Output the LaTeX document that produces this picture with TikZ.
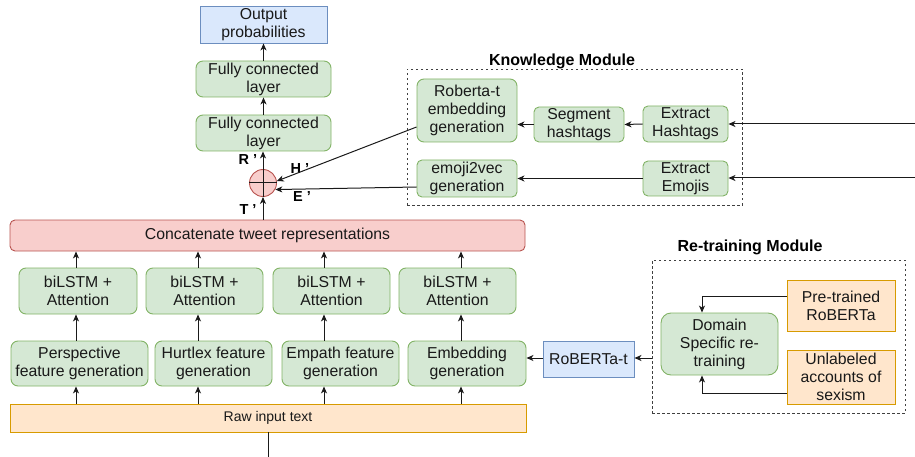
\documentclass[tikz,border=0pt]{standalone}
\usepackage{fontspec}
\setmainfont{Liberation Sans}
\usetikzlibrary{arrows.meta}
\definecolor{gfill}{HTML}{D5E8D4}\definecolor{gline}{HTML}{82B366}
\definecolor{bfill}{HTML}{DAE8FC}\definecolor{bline}{HTML}{6C8EBF}
\definecolor{rfill}{HTML}{F8CECC}\definecolor{rline}{HTML}{B85450}
\definecolor{ofill}{HTML}{FFE6CC}\definecolor{oline}{HTML}{D79B00}
\definecolor{conn}{HTML}{1A1A1A}
\tikzset{
  base/.style={draw, line width=0.9pt, inner sep=0pt, align=center, font=\fontsize{15.8}{18}\selectfont, text=black!90},
  gbox/.style={base, fill=gfill, draw=gline, rounded corners=7pt},
  bbox/.style={base, fill=bfill, draw=bline},
  rbox/.style={base, fill=rfill, draw=rline, rounded corners=5pt},
  obox/.style={base, fill=ofill, draw=oline},
  modbox/.style={draw=black!75, dashed, dash pattern=on 2.5pt off 2.5pt, line width=0.8pt},
  modtitle/.style={font=\fontsize{16}{18}\selectfont\bfseries},
  lab/.style={font=\fontsize{14.5}{16}\selectfont\bfseries},
  arr/.style={draw=conn, line width=1pt, -{Stealth[length=7pt,width=6pt,inset=2pt]}},
  ln/.style={draw=conn, line width=1pt}
}
\begin{document}
\begin{tikzpicture}[x=1pt,y=-1pt]
\useasboundingbox (0,0) rectangle (915,457);
% top stack
\node[bbox, minimum width=127pt, minimum height=37pt] (out) at (263.5,24.5) {Output\\probabilities};
\node[gbox, minimum width=135pt, minimum height=36pt] (fc1) at (263.5,79) {Fully connected\\layer};
\node[gbox, minimum width=135pt, minimum height=36pt] (fc2) at (263.5,133) {Fully connected\\layer};
\node[circle, draw=rline, fill=rfill, line width=0.9pt, minimum size=27pt, inner sep=0pt] (circ) at (263,183) {};
\draw[conn, line width=1pt] (circ.north) -- (circ.south) (circ.west) -- (circ.east);
\node[rbox, minimum width=515pt, minimum height=31pt] (concat) at (267.5,235.5) {Concatenate tweet representations};
% biLSTM
\node[gbox, minimum width=118pt, minimum height=46pt] (b1) at (78,291) {biLSTM +\\Attention};
\node[gbox, minimum width=117pt, minimum height=46pt] (b2) at (204.5,291) {biLSTM +\\Attention};
\node[gbox, minimum width=117pt, minimum height=46pt] (b3) at (331.5,291) {biLSTM +\\Attention};
\node[gbox, minimum width=117pt, minimum height=46pt] (b4) at (457.5,291) {biLSTM +\\Attention};
% features
\node[gbox, minimum width=137pt, minimum height=45pt] (f1) at (79.5,363.5) {Perspective\\feature generation};
\node[gbox, minimum width=117pt, minimum height=45pt] (f2) at (213.5,363.5) {Hurtlex feature\\generation};
\node[gbox, minimum width=117pt, minimum height=45pt] (f3) at (340.5,363.5) {Empath feature\\generation};
\node[gbox, minimum width=118pt, minimum height=45pt] (f4) at (467,363.5) {Embedding\\generation};
\node[obox, minimum width=516pt, minimum height=28pt, font=\fontsize{14}{16}\selectfont] (raw) at (268,418) {Raw input text};
\coordinate (rawin) at (268,457);
% column x positions
\coordinate (c1) at (76,0); \coordinate (c2) at (198,0); \coordinate (c3) at (324,0); \coordinate (c4) at (461,0);
\foreach \i/\c in {1/c1,2/c2,3/c3,4/c4}{
  \draw[arr] (raw.north -| \c) -- (f\i.south -| \c);
  \draw[arr] (f\i.north -| \c) -- (b\i.south -| \c);
  \draw[arr] (b\i.north -| \c) -- (concat.south -| \c);
}
\draw[ln] (rawin) -- (raw.south -| rawin);
\draw[arr] (concat.north -| circ) -- (circ.south);
\draw[arr] (circ.north) -- (fc2.south -| circ);
\draw[arr] (fc2.north) -- (fc1.south);
\draw[arr] (fc1.north) -- (out.south);
\node[lab] (lR) at (248,160) {R '};
\node[lab] (lH) at (300,169) {H '};
\node[lab] (lE) at (302,197) {E '};
\node[lab] (lT) at (248,210) {T '};
% knowledge module
\node[modbox, minimum width=335pt, minimum height=136pt, inner sep=0pt] (know) at (574.5,137) {};
\node[modtitle] (knowt) at (562,61) {Knowledge Module};
\node[gbox, minimum width=100pt, minimum height=63pt] (remb) at (467,110.5) {Roberta-t\\embedding\\generation};
\node[gbox, minimum width=90pt, minimum height=35pt, rounded corners=5pt] (seg) at (579,124.5) {Segment\\hashtags};
\node[gbox, minimum width=85pt, minimum height=36pt, rounded corners=5pt] (exh) at (685.5,124) {Extract\\Hashtags};
\node[gbox, minimum width=100pt, minimum height=37pt, rounded corners=5pt] (e2v) at (467,178.5) {emoji2vec\\generation};
\node[gbox, minimum width=85pt, minimum height=35pt, rounded corners=5pt] (exe) at (685.5,178.5) {Extract\\Emojis};
\coordinate (inh) at (915,124);
\coordinate (ine) at (915,178);
\draw[arr] (inh) -- (exh.east |- inh);
\draw[arr] (ine) -- (exe.east |- ine);
\draw[arr] (exh.west) -- (seg.west -| seg.east);
\draw[arr] (seg.west) -- (remb.east |- seg.west);
\draw[arr] (exe.west) -- (e2v.east |- exe.west);
\draw[arr] (remb.west |- 0,127) -- (circ.8);
\draw[arr] (e2v.west |- 0,187) -- (circ.-28);
% re-training module
\node[modbox, minimum width=253pt, minimum height=153pt, inner sep=0pt] (retr) at (778.5,336.5) {};
\node[modtitle] (retrt) at (750,247) {Re-training Module};
\node[obox, minimum width=108pt, minimum height=51pt] (pre) at (841,305.5) {Pre-trained\\RoBERTa};
\node[obox, minimum width=108pt, minimum height=54pt] (unl) at (841,377) {Unlabeled\\accounts of\\sexism};
\node[gbox, minimum width=117pt, minimum height=62pt, rounded corners=10pt] (dom) at (719.5,344) {Domain\\Specific re-\\training};
\node[bbox, minimum width=91pt, minimum height=36pt] (robt) at (588.5,359) {RoBERTa-t};
\coordinate (dx) at (702,0);
\draw[arr] (pre.west |- 0,296) -| (dom.north -| dx);
\draw[arr] (unl.west |- 0,393) -| (dom.south -| dx);
\draw[arr] (retr.west |- 0,358) -- (robt.east |- 0,358);
\draw[arr] (robt.west |- 0,358) -- (f4.east |- 0,358);
\end{tikzpicture}
\end{document}
